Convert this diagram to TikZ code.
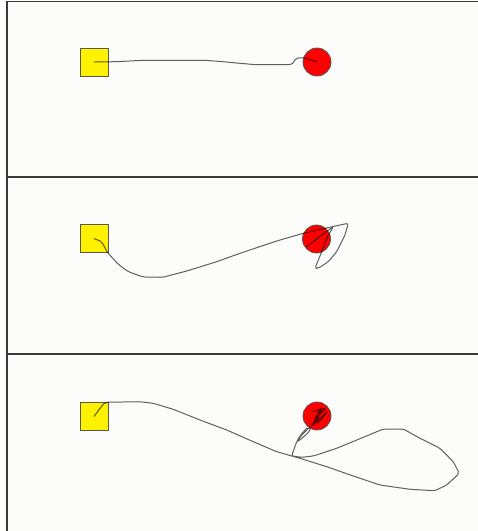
\documentclass[tikz,border=0pt]{standalone}
\usetikzlibrary{positioning}

\definecolor{paper}{HTML}{FCFCFB}
\definecolor{frame}{HTML}{3A3A3A}

\tikzset{
	goalbox/.style={draw=frame!85, line width=0.8pt, fill=yellow, minimum size=28pt, inner sep=0pt},
	ball/.style={circle, draw=frame!85, line width=0.8pt, fill=red, minimum size=28pt, inner sep=0pt},
	trail/.style={draw=black, draw opacity=0.62, line width=1pt, line join=round, rounded corners=2pt},
	panel/.style={draw=frame, line width=1.8pt}
}

\begin{document}
\begin{tikzpicture}[x=1pt, y=-1pt]
		\useasboundingbox (0,0) rectangle (478,531);
		\fill[paper] (7,1) rectangle (478,531);
		\draw[panel] (478,1.5) -- (7,1.5) -- (7,531);
		\draw[panel] (7,177) -- (478,177);
		\draw[panel] (7,354) -- (478,354);
		
		\node[goalbox] (sq1) at (94,62)    {};
		\node[ball]    (ball1) at (317,62) {};
		\node[goalbox] (sq2) at (94,238.5)  {};
		\node[ball]    (ball2) at (316.5,239) {};
		\node[goalbox] (sq3) at (94,416.5)  {};
		\node[ball]    (ball3) at (317,416) {};
		
		\draw[trail] (sq1.center) -- (116,61.7) -- (143,60.3) -- (205,60.3) -- (223,61.7)
			-- (240,63.3) -- (256,64.7) -- (291.7,64.7) -- (294,61.7) -- (296,58)
			-- (304,57.7) -- (ball1.center);
		
		\draw[trail] (sq2.center) -- (101.7,241.7) -- (107.3,252.3) -- (118.3,264.3)
			-- (128.3,271.7) -- (143.3,277) -- (162.7,277.3) -- (186.7,271)
			-- (216.7,261.7) -- (240,253.3) -- (276.7,241) -- (303.3,233.3)
			-- (322,229) -- (340,225) -- (348.3,223.3) -- (345,235) -- (336.7,251.7)
			-- (328.3,261.7) -- (318.3,268.3) -- (315,268.3) -- (321.7,251.7)
			-- (326.7,238.3) -- (333.3,226.7) -- (ball2.center) -- (306.7,246.7);
		\fill[frame] (ball2.center) circle (1.3);
		
		\draw[trail] (sq3.center) -- (100,408.3) -- (105,402.3) -- (140,401.7)
			-- (153.3,403.3) -- (173.3,409.3) -- (200,420) -- (226.7,430)
			-- (253.3,441.7) -- (276.7,451.7) -- (291.7,456) -- (300,458.3)
			-- (326.7,466.7) -- (353.3,476) -- (380,485) -- (410,489.3)
			-- (435,490.7) -- (446.7,485) -- (459.3,473.3) -- (453.3,461.7)
			-- (440,448.3) -- (420,438.3) -- (403.3,429) -- (383.3,429)
			-- (363.3,437.3) -- (336.7,448.3) -- (313.3,456) -- (301.7,457.3)
			-- (291.7,456) -- (294,449) -- (297,441) -- (300,436) -- (304,431)
			-- (308,427) -- (311,429) -- (307,434) -- (301,439) -- (297,442)
			-- (300,437) -- (306,431) -- (312,425) -- (318,418) -- (322,409)
			-- (311,412) -- (326,408) -- (314,421) -- (321,407) -- (317,424)
			-- (328,411) -- (312,426) -- (ball3.center);
		\end{tikzpicture}
\end{document}
